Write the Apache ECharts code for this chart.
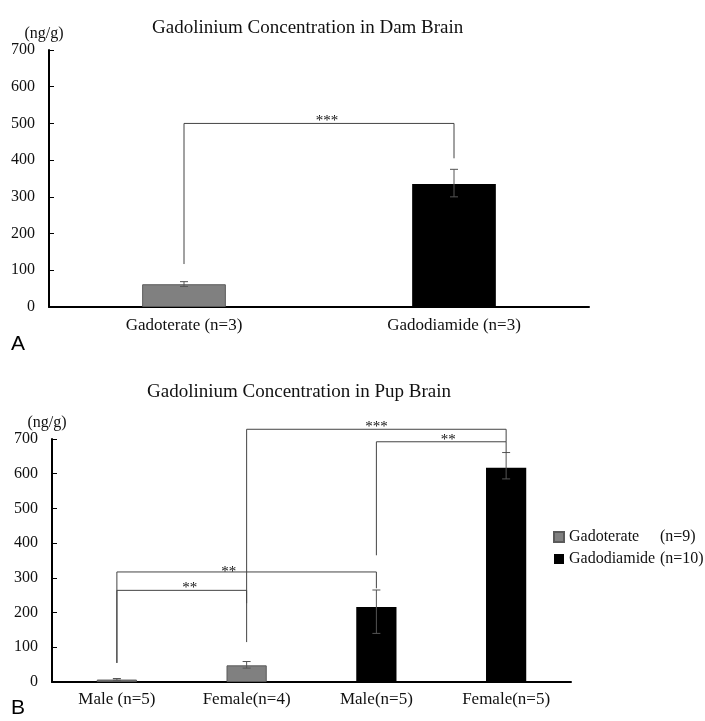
<!DOCTYPE html>
<html>
<head>
<meta charset="utf-8">
<script src="https://cdn.jsdelivr.net/npm/echarts@6/dist/echarts.min.js"></script>
<style>html,body{margin:0;padding:0;background:#fff}#c{width:705px;height:721px}</style>
</head>
<body>
<div id="c"></div>
<script>
// ---- data ----
const damCategories = ['Gadoterate (n=3)', 'Gadodiamide (n=3)'];
const damMeans = [62, 335];
const damErrLow = [56, 300];
const damErrHigh = [69, 375];
// bracket: [fromCat, toCat, level, leftEnd, rightEnd]
const damBrackets = [[0, 1, 500, 117, 405]];
const damStars = ['***'];

const pupCategories = ['Male (n=5)', 'Female(n=4)', 'Male(n=5)', 'Female(n=5)'];
const pupGadoterate = [7, 48, null, null];
const pupGadodiamide = [null, null, 216, 617];
const pupErrLow = [5, 40, 140, 585];
const pupErrHigh = [10, 59, 265, 661];
const pupBrackets = [
  [0, 1, 264, 55, 115],
  [0, 2, 317, 55, 270],
  [1, 3, 728, 227, 692],
  [2, 3, 692, 365, 660]
];
const pupStars = ['**', '**', '***', '**'];
const yTicks = { min: 0, max: 700, interval: 100 };
const legendNames = ['Gadoterate', 'Gadodiamide'];
const legendCounts = ['(n=9)', '(n=10)'];

// ---- styling ----
const SERIF = '"Liberation Serif", "Times New Roman", serif';
const GRAY = '#808080';
// star label offsets in px [dx, dy] relative to bracket midpoint / line
const starShift = [[[8, 5]], [[8, 5], [-18, 8], [0, 5], [7, 6]]];

const chart = echarts.init(document.getElementById('c'), null, { renderer: 'canvas' });

function errRender(lowArr, highArr, cap) {
  return function (params, api) {
    const i = params.dataIndex;
    const x = api.value(0);
    const top = api.coord([x, highArr[i]]);
    const bot = api.coord([x, lowArr[i]]);
    const st = { stroke: '#555', lineWidth: 1 };
    return {
      type: 'group',
      children: [
        { type: 'line', shape: { x1: top[0], y1: top[1], x2: bot[0], y2: bot[1] }, style: st },
        { type: 'line', shape: { x1: top[0] - cap, y1: top[1], x2: top[0] + cap, y2: top[1] }, style: st },
        { type: 'line', shape: { x1: bot[0] - cap, y1: bot[1], x2: bot[0] + cap, y2: bot[1] }, style: st }
      ]
    };
  };
}

function bracketRender(brackets, stars, shifts) {
  return function (params, api) {
    const i = params.dataIndex;
    const b = brackets[i];
    const pL = api.coord([b[0], b[2]]);
    const pR = api.coord([b[1], b[2]]);
    const eL = api.coord([b[0], b[3]]);
    const eR = api.coord([b[1], b[4]]);
    const st = { stroke: '#444', lineWidth: 1 };
    const sh = shifts[i] || [0, 0];
    const mx = (pL[0] + pR[0]) / 2 + sh[0];
    return {
      type: 'group',
      children: [
        { type: 'polyline', shape: { points: [[eL[0], eL[1]], [pL[0], pL[1]], [pR[0], pR[1]], [eR[0], eR[1]]] }, style: Object.assign({ fill: null }, st) },
        { type: 'text', x: mx, y: pL[1] + sh[1], style: { text: stars[i], font: '15px ' + SERIF, fill: '#111', align: 'center', verticalAlign: 'bottom' } }
      ]
    };
  };
}

const yAxisBase = {
  type: 'value', min: yTicks.min, max: yTicks.max, interval: yTicks.interval,
  name: '(ng/g)', nameLocation: 'end', nameGap: 8,
  nameTextStyle: { fontFamily: SERIF, fontSize: 16, color: '#111', align: 'center', padding: [0, 10, 0, 0] },
  axisLine: { show: true, lineStyle: { color: '#000', width: 2 } },
  axisTick: { show: true, inside: true, length: 5, lineStyle: { color: '#000', width: 1 } },
  axisLabel: { fontFamily: SERIF, fontSize: 16, color: '#111', margin: 14 },
  splitLine: { show: false }
};
const xAxisBase = {
  type: 'category',
  axisLine: { show: true, lineStyle: { color: '#000', width: 2 } },
  axisTick: { show: false },
  axisLabel: { fontFamily: SERIF, fontSize: 17, color: '#111', margin: 10 },
  splitLine: { show: false }
};

const option = {
  animation: false,
  backgroundColor: '#fff',
  title: [
    { text: 'Gadolinium Concentration in Dam Brain', left: 147, top: 12, textStyle: { fontFamily: SERIF, fontSize: 19, fontWeight: 'normal', color: '#111', lineHeight: 22 } },
    { text: 'Gadolinium Concentration in Pup Brain', left: 142, top: 376, textStyle: { fontFamily: SERIF, fontSize: 19, fontWeight: 'normal', color: '#111', lineHeight: 22 } },
    { text: 'A', left: 11, top: 334, padding: 0, textStyle: { fontFamily: '"Liberation Sans", Arial, sans-serif', fontSize: 21, fontWeight: 'normal', color: '#000' } },
    { text: 'B', left: 11, top: 698, padding: 0, textStyle: { fontFamily: '"Liberation Sans", Arial, sans-serif', fontSize: 21, fontWeight: 'normal', color: '#000' } }
  ],
  legend: {
    data: legendNames,
    orient: 'vertical', left: 548, top: 523, itemWidth: 10, itemHeight: 10, itemGap: 4, icon: 'rect',
    selectedMode: false,
    formatter: function (name) {
      const k = legendNames.indexOf(name);
      return '{a|' + name + '}{b|' + legendCounts[k] + '}';
    },
    textStyle: {
      fontFamily: SERIF, fontSize: 16, color: '#111', lineHeight: 18,
      rich: { a: { fontFamily: SERIF, fontSize: 16, width: 91, color: '#111' }, b: { fontFamily: SERIF, fontSize: 16, color: '#111' } }
    }
  },
  grid: [
    { left: 49, right: 116, top: 50, bottom: 414 },
    { left: 52, right: 134, top: 439, bottom: 39 }
  ],
  xAxis: [
    Object.assign({}, xAxisBase, { gridIndex: 0, data: damCategories }),
    Object.assign({}, xAxisBase, { gridIndex: 1, data: pupCategories, axisLabel: Object.assign({}, xAxisBase.axisLabel, { margin: 9 }) })
  ],
  yAxis: [
    Object.assign({}, yAxisBase, { gridIndex: 0 }),
    Object.assign({}, yAxisBase, { gridIndex: 1 })
  ],
  series: [
    {
      name: 'Dam', type: 'bar', xAxisIndex: 0, yAxisIndex: 0, barWidth: '31%',
      data: damMeans.map((v, i) => ({ value: v, itemStyle: i === 0 ? { color: GRAY, borderColor: '#5a5a5a', borderWidth: 1 } : { color: '#000' } }))
    },
    {
      name: 'DamErr', type: 'custom', xAxisIndex: 0, yAxisIndex: 0, z: 5,
      renderItem: errRender(damErrLow, damErrHigh, 4),
      data: damMeans.map((v, i) => [i, v])
    },
    {
      name: 'DamSig', type: 'custom', xAxisIndex: 0, yAxisIndex: 0, z: 6,
      renderItem: bracketRender(damBrackets, damStars, starShift[0]),
      data: damBrackets.map(b => [b[0], b[2]])
    },
    {
      name: 'Gadoterate', type: 'bar', xAxisIndex: 1, yAxisIndex: 1, barWidth: '31%', barGap: '-100%',
      itemStyle: { color: GRAY, borderColor: '#5a5a5a', borderWidth: 1 },
      data: pupGadoterate
    },
    {
      name: 'Gadodiamide', type: 'bar', xAxisIndex: 1, yAxisIndex: 1, barWidth: '31%', barGap: '-100%',
      itemStyle: { color: '#000' },
      data: pupGadodiamide
    },
    {
      name: 'PupErr', type: 'custom', xAxisIndex: 1, yAxisIndex: 1, z: 5,
      renderItem: errRender(pupErrLow, pupErrHigh, 4),
      data: pupCategories.map((c, i) => [i, pupGadoterate[i] != null ? pupGadoterate[i] : pupGadodiamide[i]])
    },
    {
      name: 'PupSig', type: 'custom', xAxisIndex: 1, yAxisIndex: 1, z: 6,
      renderItem: bracketRender(pupBrackets, pupStars, starShift[1]),
      data: pupBrackets.map(b => [b[0], b[2]])
    }
  ]
};
chart.setOption(option);
</script>
</body>
</html>
